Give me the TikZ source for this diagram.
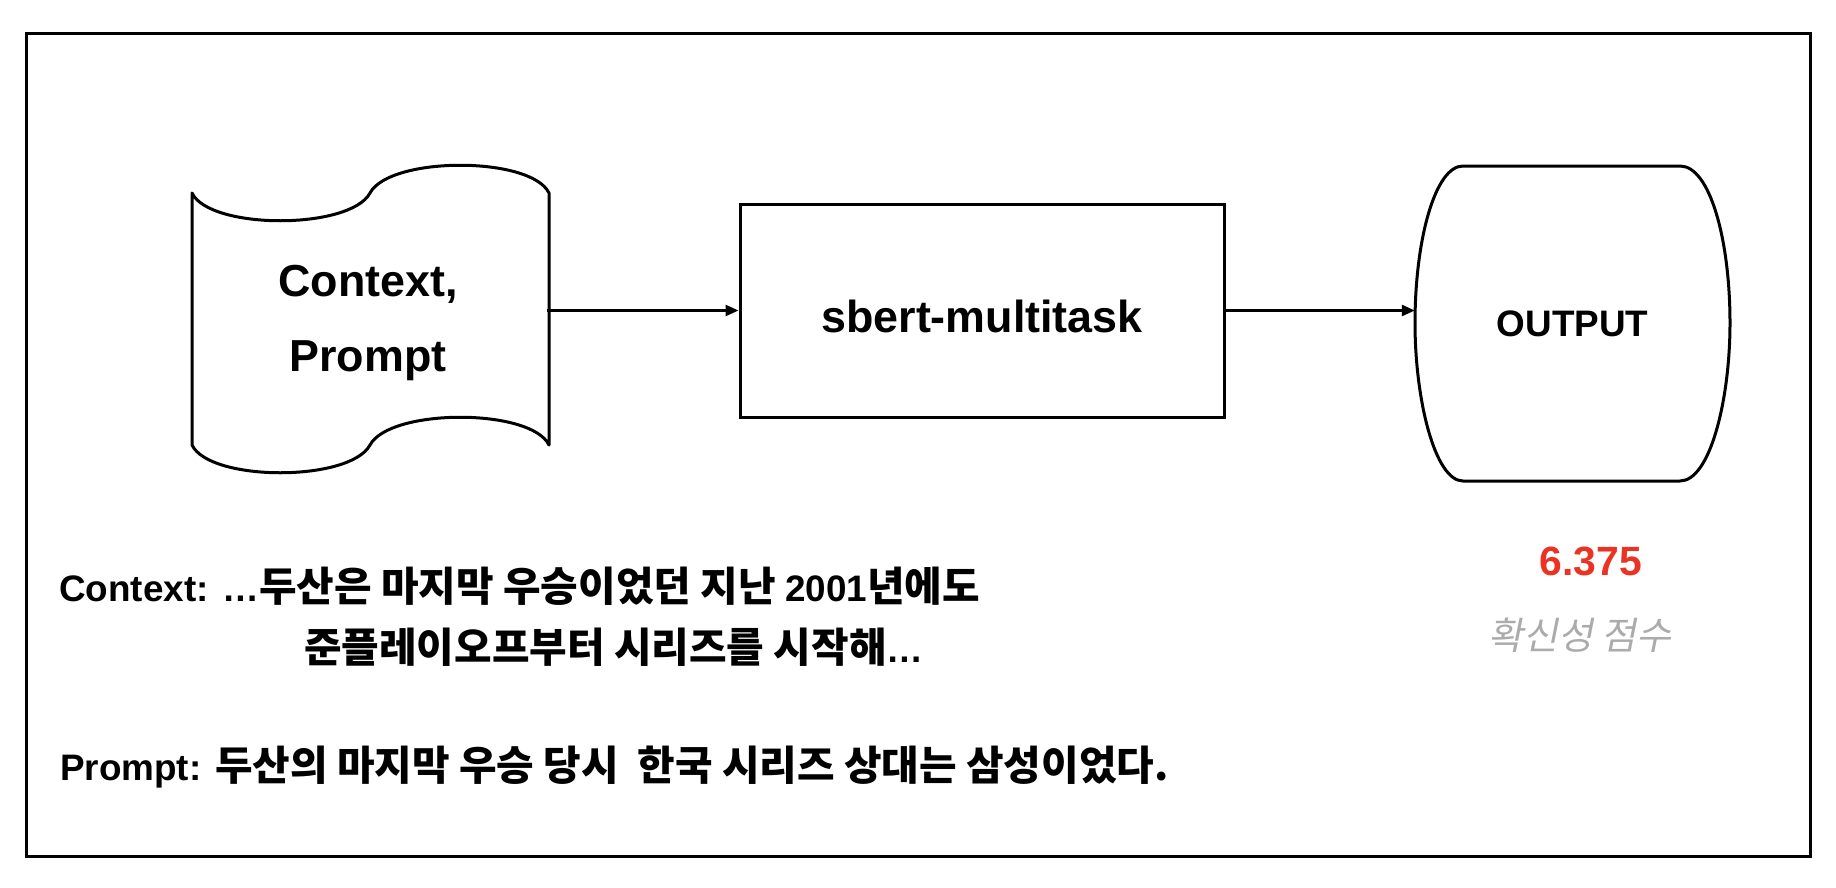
\documentclass[tikz,border=0pt]{standalone}
\usepackage{fontspec}
\setmainfont{Liberation Sans}
\newfontfamily\krb{Noto Sans CJK KR Bold}
\newfontfamily\krsl{Noto Sans CJK KR}[FakeSlant=0.2]
\usetikzlibrary{arrows.meta,calc}
\definecolor{scorered}{HTML}{EA3323}
\definecolor{labelgray}{HTML}{ABABAB}
\newcommand\KB[1]{{\krb\fontsize{41}{46}\selectfont #1}}
\begin{document}
\begin{tikzpicture}[x=1bp,y=-1bp,
  outline/.style={line width=3bp, line join=round},
  arr/.style={line width=2.6bp, -{Triangle[length=13bp,width=11bp]}},
  bigtxt/.style={font=\bfseries\fontsize{45}{75}\selectfont, align=center, inner sep=0pt},
  bottomtxt/.style={anchor=base west, inner sep=0pt, font=\bfseries\fontsize{37}{44}\selectfont},
]
\useasboundingbox (0,0) rectangle (1836,888);
\draw[line width=3bp] (26,33) rectangle (1810,856);

% document (tape) shape
\draw[outline] (192,445) -- (192,193)
  .. controls (210,230) and (350,230) .. (370,193)
  .. controls (390,156) and (531,156) .. (549,193)
  -- (549,445)
  .. controls (531,408) and (390,408) .. (370,445)
  .. controls (350,482) and (210,482) .. (192,445) -- cycle;
\node[bigtxt, minimum width=357bp, minimum height=300bp] (doc) at (368,323) {Context,\\Prompt};

% model box
\node[draw, line width=3bp, minimum width=484bp, minimum height=213bp, inner sep=0pt,
      font=\bfseries\fontsize{45}{54}\selectfont, text height=43bp, text depth=0pt]
  (sbert) at (982,310.5) {sbert-multitask};

% output shape
\node[inner sep=0pt, minimum width=315bp, minimum height=315bp,
      font=\bfseries\fontsize{37}{44}\selectfont] (out) at (1572.5,323.5) {OUTPUT};
\draw[outline] (1463,166) -- (1680,166)
  .. controls (1710,166) and (1730,240) .. (1730,323)
  .. controls (1730,400) and (1710,481) .. (1680,481)
  -- (1463,481)
  .. controls (1435,481) and (1415,400) .. (1415,323)
  .. controls (1415,240) and (1435,166) .. (1463,166) -- cycle;

% connectors
\draw[arr] (doc.east |- sbert.west) -- (sbert.west);
\draw[arr] (sbert.east) -- (sbert.east -| out.west);

% score
\node[anchor=base, inner sep=0pt, text=scorered, font=\bfseries\fontsize{41}{48}\selectfont]
  (score) at (1591,575) {6.375};
\node[anchor=base, inner sep=0pt, text=labelgray, font=\krsl\fontsize{38}{44}\selectfont]
  (scorelabel) at (1580,649) {확신성 점수};

% bottom texts
\node[bottomtxt] (ctx1) at (59,601) {Context: …\KB{두산은 마지막 우승이었던 지난 }2001\KB{년에도}};
\node[bottomtxt] (ctx2) at (304,662) {\KB{준플레이오프부터 시리즈를 시작해}…};
\node[bottomtxt] (prm) at (60,780) {Prompt: \KB{두산의 마지막 우승 당시 \ 한국 시리즈 상대는 삼성이었다.}};
\end{tikzpicture}
\end{document}
